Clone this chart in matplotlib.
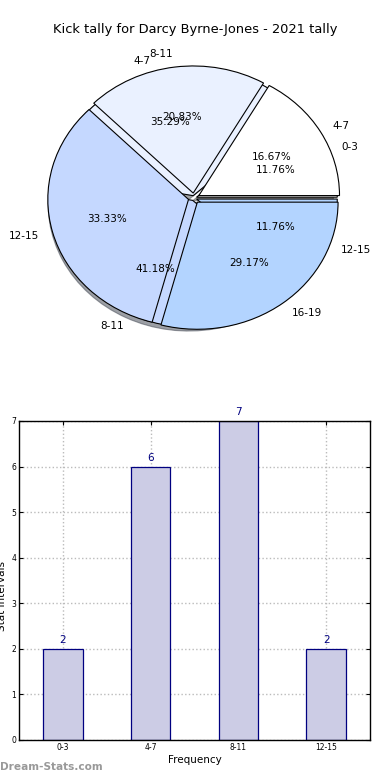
import numpy as np
import matplotlib
matplotlib.use("Agg")
import matplotlib.pyplot as plt

# Dane pentru cele doua placinte suprapuse
labels_a = ["4-7", "8-11", "12-15", "16-19"]
values_a = [4, 5, 8, 7]
labels_b = ["0-3", "4-7", "8-11", "12-15"]
values_b = [2, 6, 7, 2]
pie_colors = ["#ffffff", "#eaf1ff", "#c5d8ff", "#b3d4ff"]

# Dane pentru histograma
bar_labels = ["0-3", "4-7", "8-11", "12-15"]
bar_values = [2, 6, 7, 2]

fig = plt.figure(figsize=(3.9, 7.8), dpi=100)
fig.suptitle("Kick tally for Darcy Byrne-Jones - 2021 tally", y=0.971, fontsize=9.4)

# Placinta
ax1 = fig.add_axes([0.0103, 0.526, 0.974, 0.44])
ax1.pie(values_b, labels=labels_b, colors=pie_colors, autopct="%1.2f%%",
        explode=[0.02] * 4, shadow=True, startangle=0,
        wedgeprops=dict(edgecolor="black", linewidth=0.8),
        textprops=dict(fontsize=7.5))
ax1.pie(values_a, labels=labels_a, colors=pie_colors, autopct="%1.2f%%",
        explode=[0.04] * 4, shadow=False, startangle=0,
        wedgeprops=dict(edgecolor="black", linewidth=0.8),
        textprops=dict(fontsize=7.5))
ax1.set_aspect("auto")
ax1.set_xlim(-1.35, 1.35)
ax1.set_ylim(-1.35, 1.35)

# Histograma
ax2 = fig.add_axes([0.0487, 0.0513, 0.9, 0.409])
x = np.arange(len(bar_values))
ax2.bar(x, bar_values, width=0.45, color="#cccce5", edgecolor="#000080", linewidth=0.9, zorder=2)
for i, v in enumerate(bar_values):
    ax2.text(x[i], v + 0.08, str(v), ha="center", va="bottom", color="#000080",
             fontsize=7.5, clip_on=False)
ax2.set_xlim(-0.5, 3.5)
ax2.set_ylim(0, 7)
ax2.set_xticks(x)
ax2.set_xticklabels(bar_labels)
ax2.set_yticks(range(8))
ax2.tick_params(labelsize=5.5, direction="in", length=3, top=True, right=True, pad=2)
ax2.grid(True, linestyle=":", color="#bbbbbb", linewidth=1, zorder=0)
ax2.set_axisbelow(True)
for s in ax2.spines.values():
    s.set_linewidth(1)
ax2.set_xlabel("Frequency", fontsize=7.5, labelpad=2)
ax2.set_ylabel("Stat Intervals", fontsize=7.5, labelpad=1)
ax2.yaxis.set_label_coords(-0.035, 0.45)

fig.text(0.0, 0.013, "Dream-Stats.com", fontsize=7.6, color="#999999", fontweight="bold")

fig.savefig("out.png", dpi=100)
